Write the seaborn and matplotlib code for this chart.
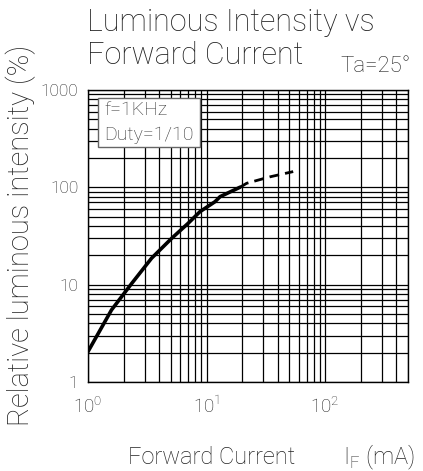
import numpy as np
import pandas as pd
import matplotlib
matplotlib.use('Agg')
import matplotlib.pyplot as plt
from matplotlib.patches import Rectangle
import seaborn as sns

# curve: forward current (mA) vs relative intensity (%)
current_solid = [1.0, 1.58, 2.34, 3.44, 5.08, 7.0, 8.8, 11.8, 13.0, 19.1]
intensity_solid = [2.05, 5.5, 10.3, 18.7, 29.9, 42.7, 56.2, 71.2, 80.1, 100]
current_dash = [19.1, 21.8, 34.2, 53.8]
intensity_dash = [100, 110, 128, 145]

y_ticks = [1, 10, 100, 1000]
y_labels = ['1', '10', '100', '1000']
x_ticks = [1, 10, 100]
x_labels = [r'$10^{0}$', r'$10^{1}$', r'$10^{2}$']

sns.set_style('white')
plt.rcParams['font.family'] = ['Roboto', 'DejaVu Sans']
plt.rcParams['font.weight'] = 'light'
plt.rcParams['mathtext.fontset'] = 'custom'
plt.rcParams['mathtext.rm'] = 'Roboto:light'

fig = plt.figure(figsize=(4.23, 4.71), dpi=100)
ax = fig.add_axes([0.208, 0.189, 0.7565, 0.62])

df_solid = pd.DataFrame({'I': current_solid, 'L': intensity_solid})
df_dash = pd.DataFrame({'I': current_dash, 'L': intensity_dash})
sns.lineplot(data=df_solid, x='I', y='L', ax=ax, color='black', linewidth=2.6)
sns.lineplot(data=df_dash, x='I', y='L', ax=ax, color='black', linewidth=2.0,
             linestyle=(0, (3.5, 2.2)))

ax.set_xscale('log')
ax.set_yscale('log')
ax.set_xlim(1, 500)
ax.set_ylim(1, 1000)
ax.set_yticks(y_ticks)
ax.set_yticklabels(y_labels)
ax.set_xticks(x_ticks)
ax.set_xticklabels(x_labels)

ax.grid(True, which='both', color='black', linewidth=0.9)
ax.tick_params(which='both', length=0, colors='#222222')
ax.tick_params(axis='x', pad=10, labelsize=13.5)
ax.tick_params(axis='y', pad=7, labelsize=12.5)
ax.set_xlabel('')
ax.set_ylabel('')
for s in ax.spines.values():
    s.set_color('black')
    s.set_linewidth(1.0)

# condition box
ax.add_patch(Rectangle((0.031, 0.805), 0.319, 0.168, transform=ax.transAxes,
                       facecolor='white', edgecolor='#666666', linewidth=1, zorder=3))
ax.text(0.052, 0.93, 'f=1KHz', transform=ax.transAxes, fontsize=14,
        va='center', ha='left', color='#333333', zorder=4)
ax.text(0.052, 0.845, 'Duty=1/10', transform=ax.transAxes, fontsize=14,
        va='center', ha='left', color='#333333', zorder=4)

fig.text(0.205, 0.953, 'Luminous Intensity vs', fontsize=22, va='center', ha='left', color='#222222')
fig.text(0.205, 0.883, 'Forward Current', fontsize=22, va='center', ha='left', color='#222222')
fig.text(0.97, 0.858, 'Ta=25°', fontsize=16, ha='right', va='center', color='#222222')
fig.text(0.05, 0.5, 'Relative luminous intensity (%)', fontsize=21, rotation=90,
         ha='center', va='center', color='#222222')
fig.text(0.50, 0.028, 'Forward Current', fontsize=17, ha='center', va='center', color='#222222')
fig.text(0.982, 0.028, r'I$_\mathregular{F}$ (mA)', fontsize=17, ha='right', va='center', color='#222222')

fig.savefig('out.png', dpi=100)
